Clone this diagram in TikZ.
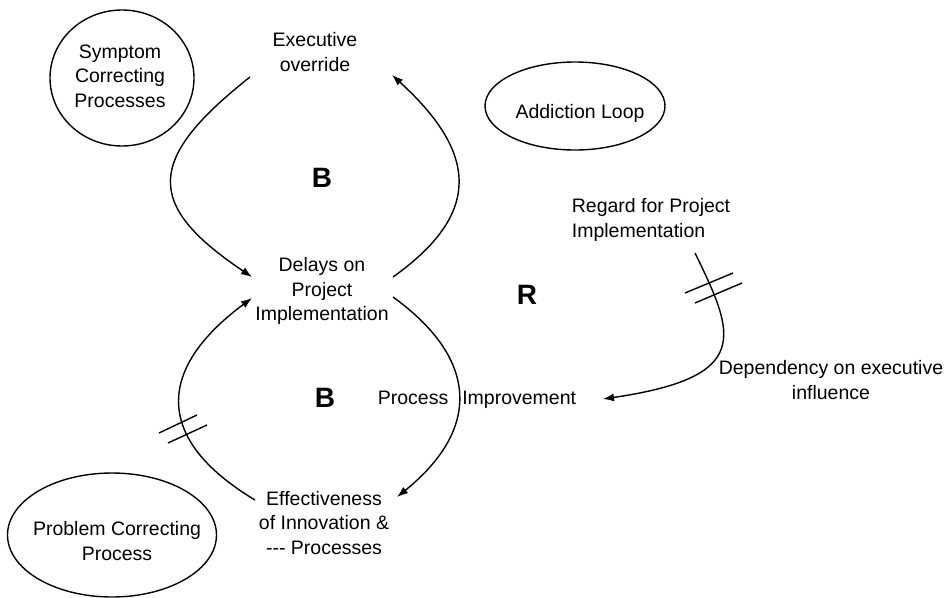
\documentclass[tikz,border=0pt]{standalone}
\usepackage{fontspec}
\setmainfont{Liberation Sans}
\usetikzlibrary{arrows.meta,shapes.geometric,calc}
\begin{document}
\begin{tikzpicture}[x=1pt,y=-1pt,
  lbl/.style={font=\fontsize{19.5}{24.5}\selectfont, align=center, inner sep=0pt},
  loopsign/.style={font=\fontsize{28}{30}\selectfont\bfseries, inner sep=0pt},
  bubble/.style={draw, ellipse, line width=1.4pt, inner sep=0pt},
  link/.style={line width=1.4pt, -{Latex[length=11pt,width=8pt]}},
  hash/.style={line width=1.4pt}]
\useasboundingbox (0,0) rectangle (947,597);

% loop names
\node[bubble, minimum width=144pt, minimum height=136pt,
      label={[lbl, xshift=-2pt, yshift=2pt]center:Symptom\\Correcting\\Processes}] (scp) at (122,78) {};
\node[bubble, minimum width=180pt, minimum height=88pt,
      label={[lbl, xshift=5pt, yshift=-7pt]center:Addiction Loop}] (add) at (575,106) {};
\node[bubble, minimum width=209pt, minimum height=124pt,
      label={[lbl, xshift=5pt, yshift=-6pt]center:Problem Correcting\\Process}] (pcp) at (112,535) {};

% variables
\node[lbl] (exec)   at (315,52)  {Executive\\override};
\node[lbl] (delay)  at (322,291) {Delays on\\Project\\Implementation};
\node[lbl] (eff)    at (324,523) {Effectiveness\\of Innovation \&\\-{}-{}- Processes};
\node[lbl, align=left] (regard) at (651,220) {Regard for Project\\Implementation};
\node[lbl] (pi)     at (477,400) {Process\hspace{14pt}Improvement};
\node[lbl] (dep)    at (831,380) {Dependency on executive\\influence};

% loop polarity signs
\node[loopsign] (b1) at (322,178) {B};
\node[loopsign] (r1) at (527,295) {R};
\node[loopsign] (b2) at (325,398) {B};

% causal links
\draw[link] ($(exec)+(-65,25)$) .. controls +(-105,83) and +(-107,-72) .. ($(delay)+(-70,-14)$);
\draw[link] ($(delay)+(71,-14)$) .. controls +(87,-62) and +(88,80) .. ($(exec)+(77,23)$);
\draw[link] ($(delay)+(71,6)$) .. controls +(87,63) and +(83,-67) .. ($(eff)+(73,-26)$);
\draw[link] ($(eff)+(-69,-23)$) .. controls +(-100,-60) and +(-97,72) .. ($(delay)+(-70,7)$);
\draw[link] ($(regard)+(44,33)$) .. controls +(40,82) and +(150,-22) .. ($(pi)+(126,-1)$);

% delay marks
\draw[hash] (159,433) -- (197,415);
\draw[hash] (168,443) -- (207,425);
\draw[hash] (685,293) -- (733,273);
\draw[hash] (695,303) -- (742,283);
\end{tikzpicture}
\end{document}
